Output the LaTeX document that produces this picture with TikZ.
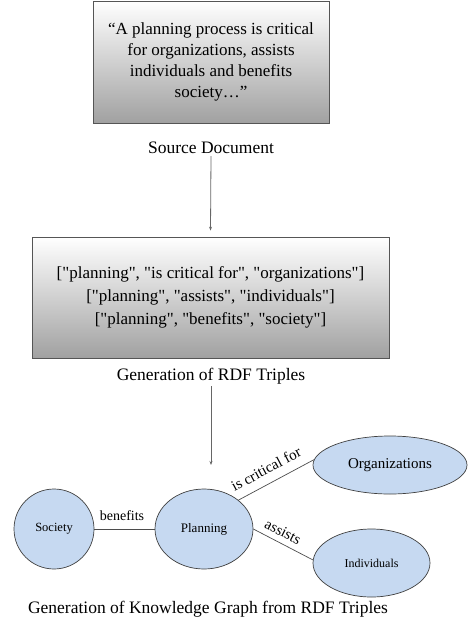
\documentclass[tikz,border=0pt]{standalone}
\usepackage{fontspec}
\setmainfont{Liberation Serif}
\usetikzlibrary{shapes.geometric,arrows.meta}
\definecolor{nodeblue}{HTML}{C6D9F1}
\definecolor{rimgray}{HTML}{555555}
\newcommand{\sq}{\textquotedbl}
\begin{document}
\begin{tikzpicture}[x=1pt,y=-1pt,
  gradbox/.style={draw=rimgray, line width=0.8pt, top color=white, bottom color=black!37,
    align=center, inner sep=0pt},
  caption/.style={inner sep=2pt, font=\fontsize{17.5}{20}\selectfont},
  flow/.style={draw=black!60, line width=0.8pt, -{Stealth[length=4pt,width=3pt]}},
  ell/.style={ellipse, draw=black!75, line width=0.7pt, fill=nodeblue, inner sep=0pt},
  edge/.style={draw=black!70, line width=0.7pt},
  elabel/.style={font=\fontsize{15}{17}\selectfont, inner sep=0pt}
]
\useasboundingbox (0,0) rectangle (471,632);

% top box
\node[gradbox, minimum width=236pt, minimum height=122pt,
      font=\fontsize{17}{21}\selectfont] (src) at (211,62)
  {\raisebox{-3pt}{\parbox{236pt}{\centering ``A planning process is critical\\for organizations, assists\\individuals and benefits\\society\dots''}}};
\node[caption] (cap1) at (211,148) {Source Document};

% second box
\node[gradbox, minimum width=357pt, minimum height=121pt,
      font=\fontsize{17}{23}\selectfont] (rdf) at (210.5,297.5)
  {[\sq planning\sq, \sq is critical for\sq, \sq organizations\sq]\\
   {}[\sq planning\sq, \sq assists\sq, \sq individuals\sq]\\
   {}[\sq planning\sq, \sq benefits\sq, \sq society\sq]};
\node[caption] (cap2) at (211,376) {Generation of RDF Triples};

\draw[flow] (cap1.south) -- ([yshift=6pt]rdf.north);
\coordinate (a2end) at (211,465);
\draw[flow] (cap2.south) -- (a2end);

% graph
\node[ell, minimum width=80pt, minimum height=80pt, font=\fontsize{12.5}{14}\selectfont] (soc) at (54,529) {Society};
\node[ell, minimum width=98pt, minimum height=80pt, font=\fontsize{13}{15}\selectfont] (plan) at (204,529) {Planning};
\node[ell, minimum width=154pt, minimum height=58pt, font=\fontsize{15}{17}\selectfont] (org) at (390,465) {Organizations};
\node[ell, minimum width=117pt, minimum height=68pt, font=\fontsize{12}{14}\selectfont] (ind) at (371.5,563) {Individuals};

\draw[edge] (soc.east) -- (plan.west)
  node[elabel, font=\fontsize{14}{16}\selectfont] at (122,516) {benefits};
\draw[edge] (plan.40.6) -- (org.176)
  node[elabel, rotate=28] at (266,469) {is critical for};
\draw[edge] (plan.east) -- (ind.177)
  node[elabel, rotate=-27] at (283,532) {assists};

\node[caption] (cap3) at (208,609) {Generation of Knowledge Graph from RDF Triples};
\end{tikzpicture}
\end{document}
